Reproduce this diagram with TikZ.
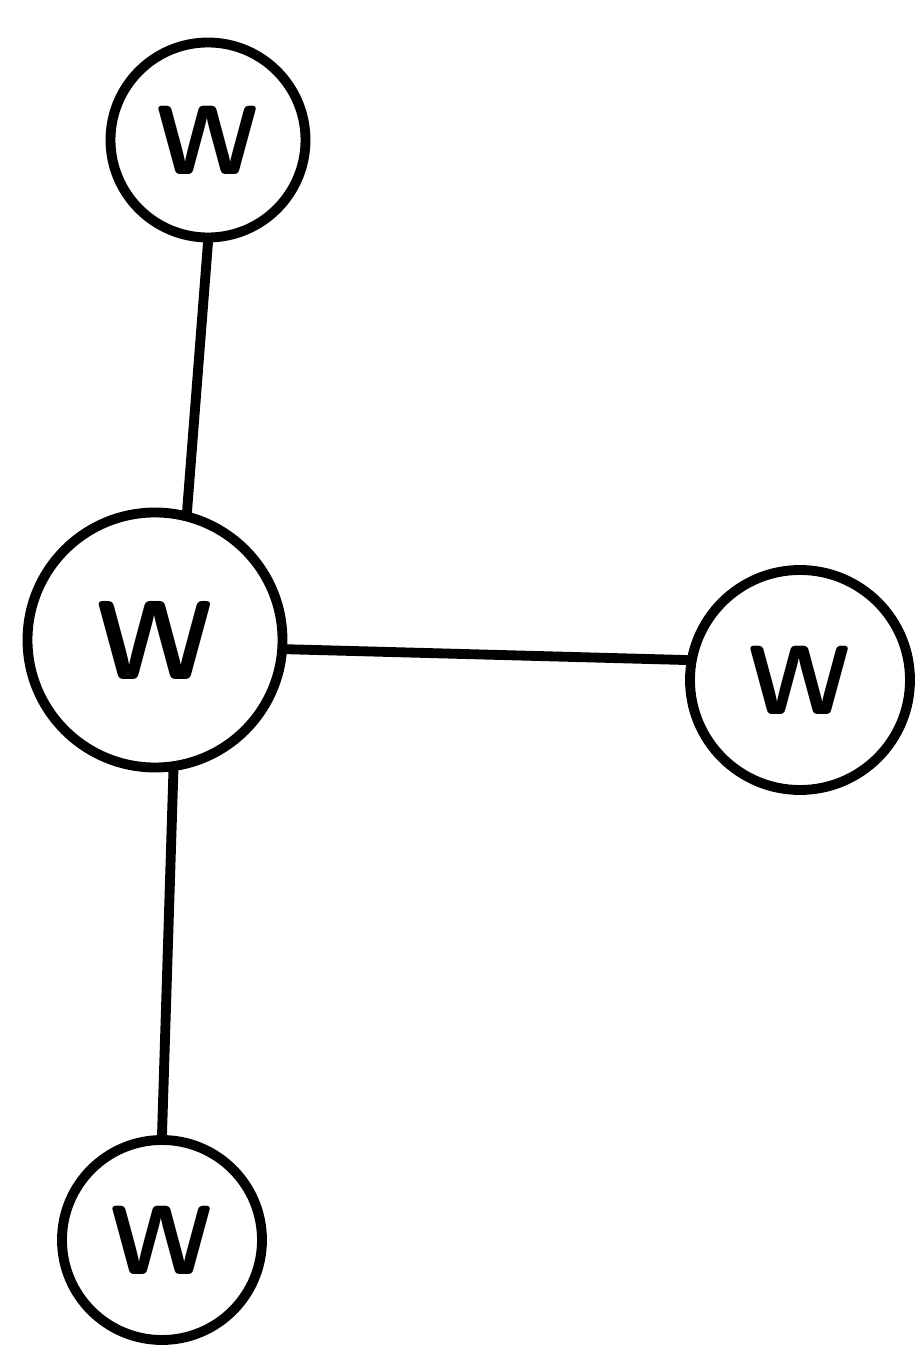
\documentclass[tikz,border=0pt]{standalone}
\usepackage{tikz}
\usetikzlibrary{positioning}

\begin{document}
\begin{tikzpicture}[line width=2.8pt, line cap=round,
                    every node/.style={circle, draw, line width=2.8pt,
                    inner sep=0pt, font=\sffamily\bfseries\fontsize{28}{28}\selectfont}]
  \useasboundingbox (0,0) rectangle (9.23,13.47);
  % Nodes
  \node[minimum size=1.95cm] (top) at (2.08, 12.07) {W};
  \node[minimum size=2.55cm, font=\sffamily\bfseries\fontsize{32}{32}\selectfont] (mid) at (1.55, 7.07) {W};
  \node[minimum size=2.2cm] (right) at (8.00, 6.67) {W};
  \node[minimum size=2.0cm] (bot) at (1.62, 1.07) {W};
  % Edges
  \draw (top.south)--(mid.76); \draw (mid.-4)--(right.170); \draw (mid.-82)--(bot.north);
\end{tikzpicture}
\end{document}
